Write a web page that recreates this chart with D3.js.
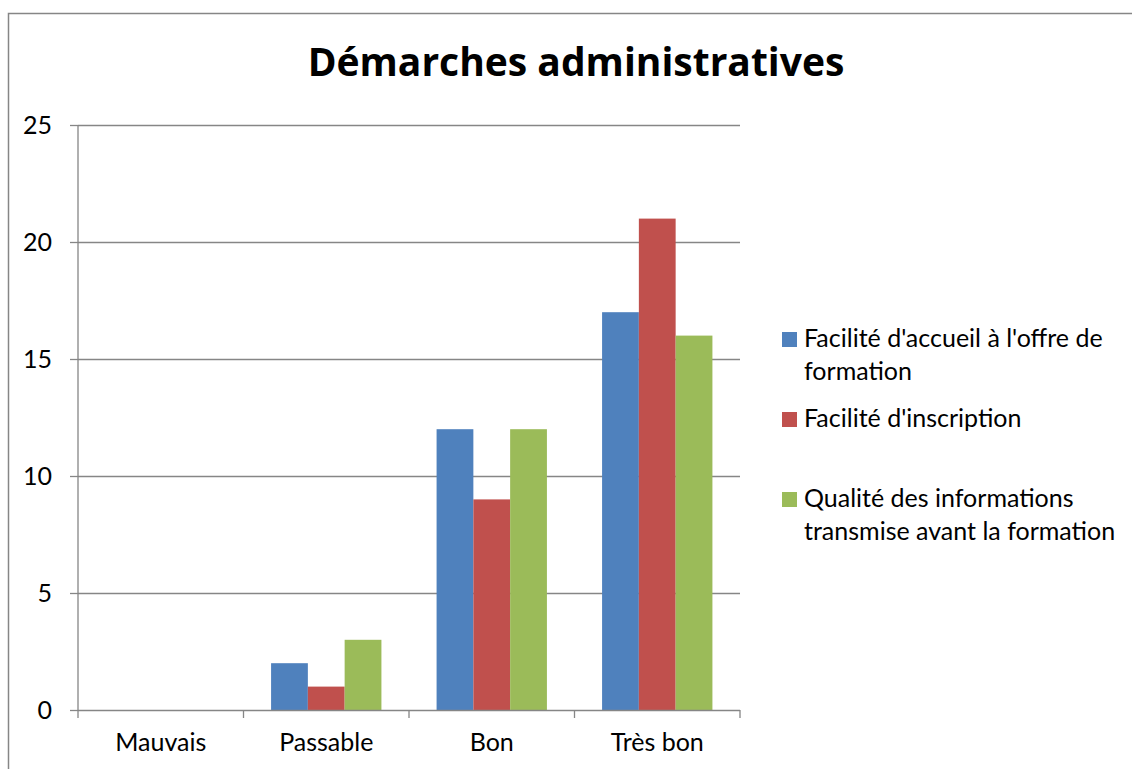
<!DOCTYPE html>
<html>
<head>
<meta charset="utf-8">
<script src="https://cdn.jsdelivr.net/npm/d3@7"></script>
<style>
  body { margin: 0; background: #fff; }
  svg text { font-family: Lato, "Open Sans", sans-serif; fill: #000; }
</style>
</head>
<body>
<div id="chart"></div>
<script>
// chart values
var categories = ["Mauvais", "Passable", "Bon", "Très bon"];
var seriesNames = [
    ["Facilité d'accueil à l'offre de", "formation"],
    ["Facilité d'inscription"],
    ["Qualité des informations", "transmise avant la formation"]
];
var accueil = [0, 2, 12, 17];
var inscription = [0, 1, 9, 21];
var qualite = [0, 3, 12, 16];
var yTicks = [0, 5, 10, 15, 20, 25];
var colors = ["#4F81BD", "#C0504D", "#9BBB59"];

var series = [accueil, inscription, qualite];

var W = 1132, H = 769;
var margin = {left: 78, right: 392, top: 125, bottom: 59};
var width = W - margin.left - margin.right;
var height = H - margin.top - margin.bottom;

var svg = d3.select("#chart").append("svg")
    .attr("width", W)
    .attr("height", H);

// outer frame
svg.append("rect")
    .attr("x", 8.5).attr("y", 13.5)
    .attr("width", W).attr("height", H)
    .attr("fill", "none")
    .attr("stroke", "#868686")
    .attr("stroke-width", 1.5);

// title
svg.append("text")
    .attr("x", 576).attr("y", 76)
    .attr("text-anchor", "middle")
    .style("font-family", "'Open Sans', Lato, sans-serif")
    .style("font-size", "39px")
    .style("font-weight", "bold")
    .text("Démarches administratives");

var g = svg.append("g")
    .attr("transform", "translate(" + margin.left + "," + margin.top + ")");

var x0 = d3.scaleBand().domain(categories).range([0, width])
    .paddingInner(1/3).paddingOuter(1/6);
var x1 = d3.scaleBand().domain(d3.range(series.length)).range([0, x0.bandwidth()]);
var y = d3.scaleLinear().domain([0, 25]).range([height, 0]);

// gridlines
g.selectAll(".grid").data(yTicks.filter(function(d){ return d > 0; })).enter()
    .append("line")
    .attr("x1", 0).attr("x2", width)
    .attr("y1", function(d){ return Math.round(y(d)) + 0.5; })
    .attr("y2", function(d){ return Math.round(y(d)) + 0.5; })
    .attr("stroke", "#868686").attr("stroke-width", 1.3);

// bars
categories.forEach(function(c, i){
    series.forEach(function(s, j){
        if (s[i] <= 0) return;
        g.append("rect")
            .attr("x", x0(c) + x1(j))
            .attr("y", y(s[i]))
            .attr("width", x1.bandwidth())
            .attr("height", height - y(s[i]))
            .attr("fill", colors[j]);
    });
});

// y axis
var yAxis = d3.axisLeft(y).tickValues(yTicks).tickSize(8).tickPadding(18);
var ya = g.append("g").call(yAxis);
ya.selectAll("path, line").attr("stroke", "#868686").attr("stroke-width", 1.3);
ya.select(".domain").attr("d", "M0,0V" + height);
ya.selectAll("text").style("font-size", "25px").attr("dy", "0.35em");

// x axis
var step = x0.step();
var xa = g.append("g").attr("transform", "translate(0," + height + ")");
xa.append("line").attr("x1", 0).attr("x2", width).attr("y1", 0.5).attr("y2", 0.5)
    .attr("stroke", "#868686").attr("stroke-width", 1.3);
xa.selectAll(".tk").data(d3.range(categories.length + 1)).enter()
    .append("line")
    .attr("x1", function(d){ return d * step; })
    .attr("x2", function(d){ return d * step; })
    .attr("y1", 0).attr("y2", 8)
    .attr("stroke", "#868686").attr("stroke-width", 1.3);
xa.selectAll(".lbl").data(categories).enter()
    .append("text")
    .attr("x", function(d){ return x0(d) + x0.bandwidth() / 2; })
    .attr("y", 41)
    .attr("text-anchor", "middle")
    .style("font-size", "25px")
    .text(function(d){ return d; });

// legend
var legendBase = [347, 427, 507];
var legend = svg.append("g");
seriesNames.forEach(function(lines, j){
    legend.append("rect")
        .attr("x", 782).attr("y", legendBase[j] - 15)
        .attr("width", 15).attr("height", 15)
        .attr("fill", colors[j]);
    var t = legend.append("text")
        .attr("x", 804).attr("y", legendBase[j])
        .style("font-size", "25px");
    lines.forEach(function(l, k){
        t.append("tspan").attr("x", 804).attr("dy", k === 0 ? 0 : 33).text(l);
    });
});
</script>
</body>
</html>
